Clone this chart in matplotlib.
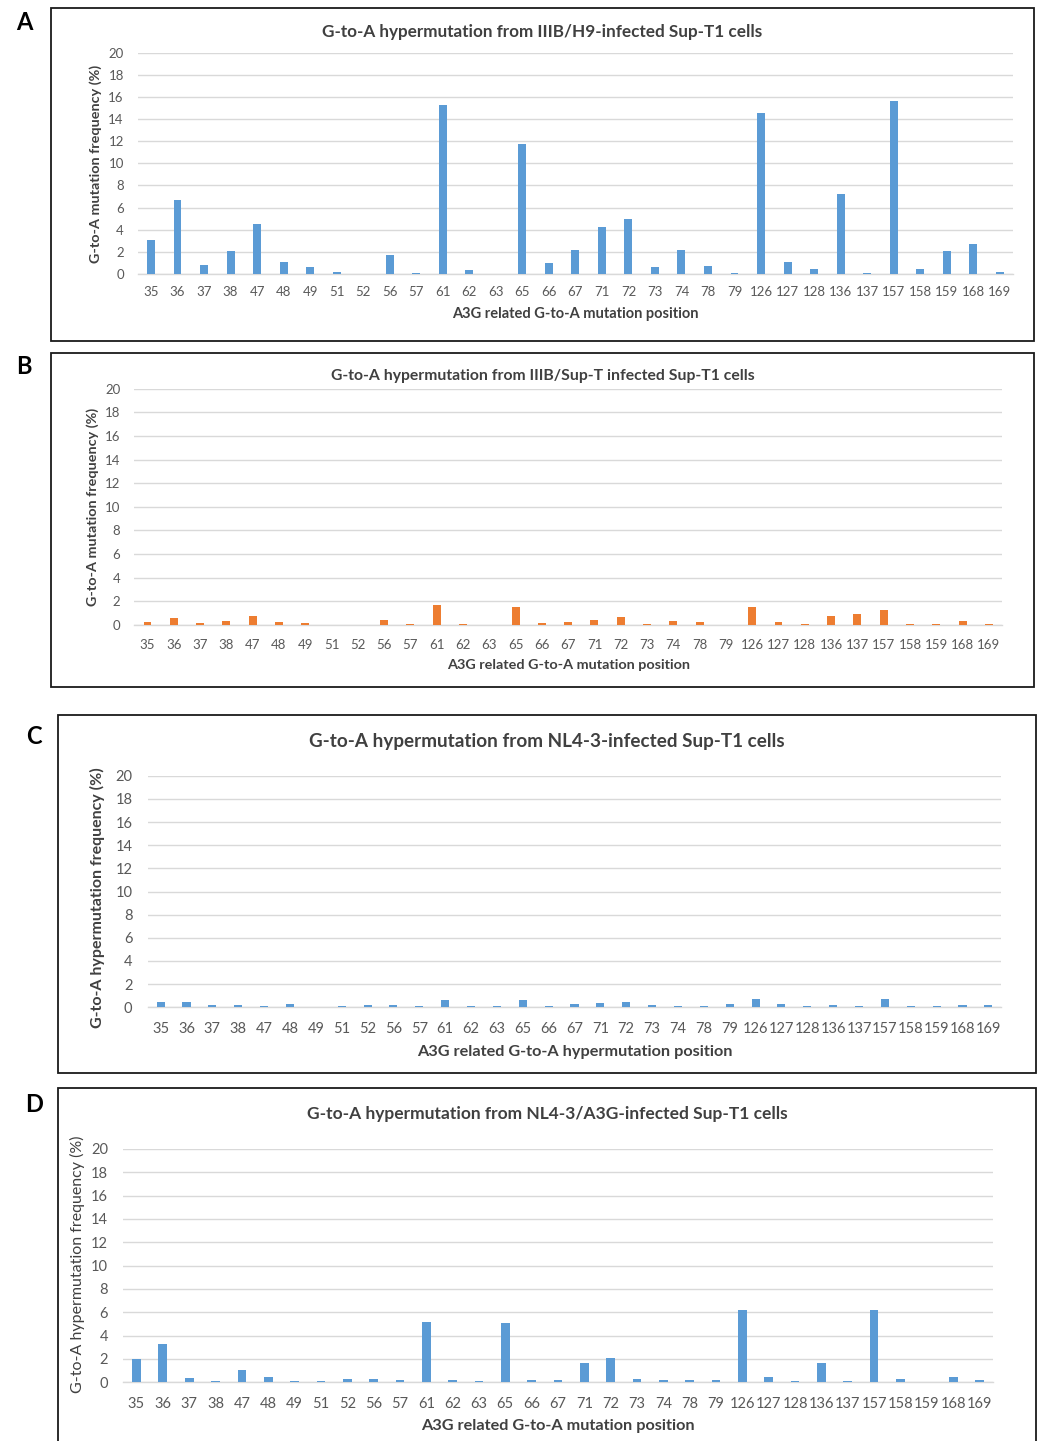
import matplotlib
matplotlib.use("Agg")
import matplotlib.pyplot as plt
from matplotlib.patches import Rectangle

plt.rcParams["font.family"] = ["Lato", "DejaVu Sans"]

W, H = 1039, 1441

positions = ["35", "36", "37", "38", "47", "48", "49", "51", "52", "56", "57",
             "61", "62", "63", "65", "66", "67", "71", "72", "73", "74", "78",
             "79", "126", "127", "128", "136", "137", "157", "158", "159", "168", "169"]

iiib_h9 = [3.1, 6.7, 0.8, 2.1, 4.55, 1.1, 0.65, 0.2, 0.0, 1.7, 0.1,
           15.3, 0.33, 0.0, 11.75, 1.0, 2.17, 4.25, 4.95, 0.63, 2.17, 0.75,
           0.09, 14.55, 1.05, 0.42, 7.26, 0.09, 15.6, 0.42, 2.05, 2.71, 0.15]

iiib_supt = [0.25, 0.59, 0.17, 0.34, 0.76, 0.23, 0.14, 0.0, 0.0, 0.40, 0.08,
             1.69, 0.08, 0.0, 1.50, 0.14, 0.25, 0.40, 0.65, 0.08, 0.34, 0.23,
             0.0, 1.47, 0.25, 0.08, 0.76, 0.88, 1.21, 0.08, 0.08, 0.31, 0.08]

nl43 = [0.43, 0.49, 0.17, 0.23, 0.12, 0.29, 0.0, 0.12, 0.23, 0.17, 0.12,
        0.63, 0.12, 0.12, 0.63, 0.12, 0.26, 0.35, 0.43, 0.20, 0.14, 0.14,
        0.29, 0.75, 0.29, 0.09, 0.23, 0.09, 0.69, 0.09, 0.09, 0.23, 0.17]

nl43_a3g = [2.0, 3.31, 0.37, 0.14, 1.09, 0.43, 0.14, 0.14, 0.31, 0.31, 0.2,
            5.2, 0.2, 0.14, 5.06, 0.2, 0.2, 1.69, 2.11, 0.26, 0.2, 0.2,
            0.2, 6.23, 0.43, 0.11, 1.63, 0.11, 6.17, 0.31, 0.0, 0.49, 0.17]

BLUE = "#5B9BD5"
ORANGE = "#ED7D31"
GRID = "#D9D9D9"
TICK = "#595959"
TITLE = "#404040"

panels = [
    dict(letter="A", values=iiib_h9, color=BLUE, box=(51, 8, 1034, 341), letter_xy=(24, 22),
         plot=(137.7, 52.7, 1013, 274), title="G-to-A hypermutation from IIIB/H9-infected Sup-T1 cells",
         title_y=32, title_fs=12.3, xlabel="A3G related G-to-A mutation position", xlabel_y=314,
         xlabel_fs=10.5, ylabel="G-to-A mutation frequency (%)", ylabel_x=96, ylabel_yc=163.5,
         ylabel_fs=10.4, ylabel_bold=True, fs=9.5, ypad=10, xpad=9, barw=0.3),
    dict(letter="B", values=iiib_supt, color=ORANGE, box=(51, 353, 1034, 687), letter_xy=(24, 367),
         plot=(134.3, 388.7, 1002, 624.7), title="G-to-A hypermutation from IIIB/Sup-T infected Sup-T1 cells",
         title_y=376, title_fs=11.3, xlabel="A3G related G-to-A mutation position", xlabel_y=665,
         xlabel_fs=10.4, ylabel="G-to-A mutation frequency (%)", ylabel_x=93, ylabel_yc=507,
         ylabel_fs=10.4, ylabel_bold=True, fs=9.5, ypad=10, xpad=10, barw=0.3),
    dict(letter="C", values=nl43, color=BLUE, box=(58, 715, 1036, 1073), letter_xy=(34, 737),
         plot=(147.7, 775.7, 1001.3, 1007.3), title="G-to-A hypermutation from NL4-3-infected Sup-T1 cells",
         title_y=742, title_fs=13.6, xlabel="A3G related G-to-A hypermutation position", xlabel_y=1052,
         xlabel_fs=11.7, ylabel="G-to-A hypermutation frequency (%)", ylabel_x=97, ylabel_yc=898,
         ylabel_fs=11.5, ylabel_bold=True, fs=10.5, ypad=11, xpad=10.5, barw=0.31),
    dict(letter="D", values=nl43_a3g, color=BLUE, box=(58, 1088, 1036, 1445), letter_xy=(34, 1105),
         plot=(123.3, 1149, 992.7, 1382.3), title="G-to-A hypermutation from NL4-3/A3G-infected Sup-T1 cells",
         title_y=1114, title_fs=12.5, xlabel="A3G related G-to-A mutation position", xlabel_y=1426,
         xlabel_fs=11.7, ylabel="G-to-A hypermutation frequency (%)", ylabel_x=77, ylabel_yc=1264,
         ylabel_fs=11.5, ylabel_bold=False, fs=10.5, ypad=11, xpad=10.5, barw=0.33),
]

fig = plt.figure(figsize=(W / 100, H / 100), dpi=100)


def fx(x):
    return x / W


def fy(y):
    return 1 - y / H


for p in panels:
    x0, y0, x1, y1 = p["box"]
    fig.patches.append(Rectangle((fx(x0), fy(y1)), fx(x1 - x0), (y1 - y0) / H,
                                 transform=fig.transFigure, fill=False,
                                 edgecolor="#1a1a1a", linewidth=1.3))
    fig.text(fx(p["letter_xy"][0]), fy(p["letter_xy"][1]), p["letter"],
             fontsize=17, fontweight="bold", ha="center", va="center", color="black")

    px0, py0, px1, py1 = p["plot"]
    ax = fig.add_axes([fx(px0), fy(py1), fx(px1 - px0), (py1 - py0) / H])
    xs = list(range(len(positions)))
    ax.bar(xs, p["values"], width=p["barw"], color=p["color"], zorder=3)
    ax.set_xlim(-0.5, len(positions) - 0.5)
    ax.set_ylim(0, 20)
    ax.set_yticks(range(0, 21, 2))
    ax.set_xticks(xs)
    ax.set_xticklabels(positions)
    ax.yaxis.grid(True, color=GRID, linewidth=1.0, zorder=0)
    ax.set_axisbelow(True)
    for s in ["top", "right", "left"]:
        ax.spines[s].set_visible(False)
    ax.spines["bottom"].set_color(GRID)
    ax.spines["bottom"].set_linewidth(1.0)
    ax.tick_params(axis="y", length=0, pad=p["ypad"], labelsize=p["fs"], labelcolor=TICK)
    ax.tick_params(axis="x", length=0, pad=p["xpad"], labelsize=p["fs"], labelcolor=TICK)

    # title centred on the panel box, x label centred on the plot area
    fig.text(fx((x0 + x1) / 2), fy(p["title_y"]), p["title"], fontsize=p["title_fs"],
             fontweight="bold", color=TITLE, ha="center", va="center")
    fig.text(fx((px0 + px1) / 2), fy(p["xlabel_y"]), p["xlabel"], fontsize=p["xlabel_fs"],
             fontweight="bold", color=TITLE, ha="center", va="center")
    fig.text(fx(p["ylabel_x"]), fy(p["ylabel_yc"]), p["ylabel"], rotation=90,
             fontsize=p["ylabel_fs"], fontweight="bold" if p["ylabel_bold"] else "normal",
             color=TITLE, ha="center", va="center")

fig.savefig("out.png", dpi=100)
